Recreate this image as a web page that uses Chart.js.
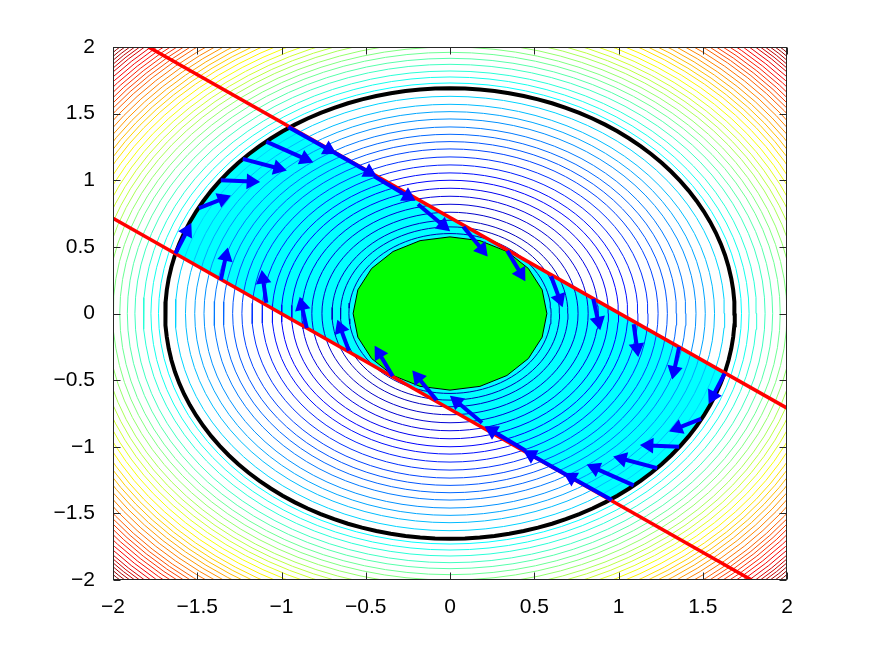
<!DOCTYPE html>
<html>
<head>
<meta charset="utf-8">
<script src="https://cdn.jsdelivr.net/npm/chart.js@4.4.1/dist/chart.umd.min.js"></script>
<style>
  html, body { margin: 0; background: #fff; }
  canvas { display: block; }
</style>
</head>
<body>
<canvas id="c" width="869" height="653"></canvas>
<script>
// levels of x^2 + y^2
const contourRadii = [0.60, 0.65, 0.70, 0.76, 0.82, 0.88, 0.94, 1.00, 1.055, 1.115, 1.175, 1.235,
  1.29, 1.345, 1.40, 1.46, 1.515, 1.57, 1.63, 1.73, 1.775, 1.82, 1.87, 1.915, 1.96, 2.00,
  2.04, 2.08, 2.115, 2.15, 2.185, 2.22, 2.255, 2.29, 2.32, 2.35, 2.38, 2.41, 2.44, 2.47,
  2.50, 2.525, 2.55, 2.575, 2.60, 2.625, 2.65, 2.675, 2.70, 2.72, 2.74, 2.76, 2.78, 2.80, 2.82];
const blackRadius = 1.69;   // thick black level
const greenRadius = 0.575;  // filled green level

// the two red constraint lines
const upperLineX = [-1.79, 2.0],  upperLineY = [2.0, -0.71];
const lowerLineX = [-2.0, 1.79],  lowerLineY = [0.715, -2.0];

// quiver: tails and vectors
const arrowX = [-1.63, -1.49, -1.36, -1.23, -1.09, -0.96, -0.69, -0.45, -0.19, 0.08, 0.34, 0.60, 0.85, 1.09, 1.36,
                 1.63,  1.49,  1.36,  1.23,  1.09,  0.96,  0.69,  0.45,  0.19, -0.08, -0.34, -0.60, -0.85, -1.09, -1.36];
const arrowY = [0.45, 0.79, 1.00, 1.16, 1.29, 1.40, 1.21, 1.03, 0.82, 0.65, 0.47, 0.28, 0.11, -0.08, -0.25,
               -0.45, -0.79, -1.00, -1.16, -1.29, -1.40, -1.21, -1.03, -0.82, -0.65, -0.47, -0.28, -0.11, 0.08, 0.25];
const arrowU = [0.07, 0.14, 0.18, 0.21, 0.23, 0.24, 0.21, 0.20, 0.15, 0.11, 0.08, 0.05, 0.03, 0.02, -0.03,
               -0.07, -0.14, -0.18, -0.21, -0.23, -0.24, -0.21, -0.20, -0.15, -0.11, -0.08, -0.05, -0.03, -0.02, 0.03];
const arrowV = [0.17, 0.07, -0.01, -0.07, -0.13, -0.17, -0.15, -0.15, -0.16, -0.17, -0.17, -0.17, -0.17, -0.18, -0.18,
               -0.17, -0.07, 0.01, 0.07, 0.13, 0.17, 0.15, 0.15, 0.16, 0.17, 0.17, 0.17, 0.17, 0.18, 0.18];

const xTicks = [-2, -1.5, -1, -0.5, 0, 0.5, 1, 1.5, 2];
const yTicks = [-2, -1.5, -1, -0.5, 0, 0.5, 1, 1.5, 2];

/* helpers ------------------------------------------------------------ */
function jet(t) {
  const c = v => Math.round(255 * Math.max(0, Math.min(1, v)));
  return `rgb(${c(1.5 - Math.abs(4*t - 3))},${c(1.5 - Math.abs(4*t - 2))},${c(1.5 - Math.abs(4*t - 1))})`;
}
const fMax = 8; // x^2+y^2 at the corners
function ring(r, n) {
  const pts = [];
  for (let k = 0; k <= n; k++) {
    const a = 2 * Math.PI * k / n;
    pts.push({ x: r * Math.cos(a), y: r * Math.sin(a) });
  }
  return pts;
}
function arc(r, a0, a1, n) {
  const pts = [];
  for (let k = 0; k <= n; k++) {
    const a = a0 + (a1 - a0) * k / n;
    pts.push({ x: r * Math.cos(a), y: r * Math.sin(a) });
  }
  return pts;
}
function lineCoef(X, Y) {
  const m = (Y[1] - Y[0]) / (X[1] - X[0]);
  return [m, Y[0] - m * X[0]];
}
function crossings(m, c, R) {
  const A = 1 + m*m, B = 2*m*c, C = c*c - R*R, d = Math.sqrt(B*B - 4*A*C);
  return [(-B - d) / (2*A), (-B + d) / (2*A)].map(x => ({ x, y: m*x + c }));
}

/* feasible (cyan) region: disc inside black level, between the red lines */
const [mU, cU] = lineCoef(upperLineX, upperLineY);
const [mL, cL] = lineCoef(lowerLineX, lowerLineY);
const [p1, p2] = crossings(mU, cU, blackRadius);
const [p4, p3] = crossings(mL, cL, blackRadius);
const ang = p => Math.atan2(p.y, p.x);
const cyanShape = [p1, p2, ...arc(blackRadius, ang(p2), ang(p3), 30), p4,
                   ...arc(blackRadius, ang(p4), ang(p1), 30)];

/* datasets ------------------------------------------------------------ */
const datasets = [];

datasets.push({ data: cyanShape, order: 5, showLine: true, fill: 'shape',
  backgroundColor: '#00ffff', borderWidth: 0, pointRadius: 0 });

contourRadii.forEach(r => datasets.push({
  data: ring(r, 96), order: 4, showLine: true, fill: false,
  borderColor: jet(r * r / fMax), borderWidth: 1, pointRadius: 0
}));

datasets.push({ data: ring(greenRadius, 20), order: 3, showLine: true, fill: 'shape',
  backgroundColor: '#00ff00', borderColor: '#000', borderWidth: 1, pointRadius: 0 });

datasets.push({ data: ring(blackRadius, 120), order: 2, showLine: true, fill: false,
  borderColor: '#000', borderWidth: 4, pointRadius: 0 });

[[upperLineX, upperLineY], [lowerLineX, lowerLineY]].forEach(([X, Y]) => datasets.push({
  data: X.map((x, i) => ({ x, y: Y[i] })), order: 1, showLine: true, fill: false,
  borderColor: '#ff0000', borderWidth: 3.5, pointRadius: 0
}));

const headAngle = ctx => {
  const d = ctx.chart.data.datasets[ctx.datasetIndex].data;
  const sx = ctx.chart.scales.x, sy = ctx.chart.scales.y;
  const dx = sx.getPixelForValue(d[1].x) - sx.getPixelForValue(d[0].x);
  const dy = sy.getPixelForValue(d[1].y) - sy.getPixelForValue(d[0].y);
  return Math.atan2(dx, -dy) * 180 / Math.PI;
};
arrowX.forEach((x, i) => datasets.push({
  data: [{ x, y: arrowY[i] }, { x: x + arrowU[i], y: arrowY[i] + arrowV[i] }],
  order: 0, showLine: true, fill: false, borderColor: '#0000ff', borderWidth: 4,
  pointStyle: 'triangle', pointRadius: c => c.dataIndex === 1 ? 7 : 0,
  pointBackgroundColor: '#0000ff', pointBorderColor: '#0000ff', pointBorderWidth: 2,
  rotation: headAngle
}));

/* axes box with inward ticks (matlab style) --------------------------- */
const axesBox = {
  id: 'axesBox',
  afterDraw(chart) {
    const { ctx, chartArea: a, scales: { x, y } } = chart;
    const L = Math.round(a.left) + 0.5, R = Math.round(a.right) - 0.5;
    const T = Math.round(a.top) + 0.5, B = Math.round(a.bottom) - 0.5;
    ctx.save();
    ctx.strokeStyle = '#262626';
    ctx.lineWidth = 1;
    ctx.strokeRect(L, T, R - L, B - T);
    ctx.beginPath();
    xTicks.forEach(v => {
      const px = Math.round(x.getPixelForValue(v)) + 0.5;
      ctx.moveTo(px, B); ctx.lineTo(px, B - 7);
      ctx.moveTo(px, T); ctx.lineTo(px, T + 7);
    });
    yTicks.forEach(v => {
      const py = Math.round(y.getPixelForValue(v)) + 0.5;
      ctx.moveTo(L, py); ctx.lineTo(L + 7, py);
      ctx.moveTo(R, py); ctx.lineTo(R - 7, py);
    });
    ctx.stroke();
    ctx.restore();
  }
};

const tickFont = { family: "'Liberation Sans', Arial, Helvetica, sans-serif", size: 21 };
const fmt = v => String(v).replace('-', '\u2212');

new Chart(document.getElementById('c'), {
  type: 'scatter',
  data: { datasets },
  options: {
    responsive: false,
    animation: false,
    events: [],
    layout: { padding: { left: 0, top: 47, right: 82, bottom: 0 } },
    plugins: { legend: { display: false }, tooltip: { enabled: false } },
    scales: {
      x: {
        type: 'linear', min: -2, max: 2,
        afterBuildTicks: s => { s.ticks = xTicks.map(v => ({ value: v })); },
        afterFit: s => { s.height = 73; },
        grid: { display: false }, border: { display: false },
        ticks: { color: '#000', font: tickFont, padding: 7, maxRotation: 0, callback: fmt }
      },
      y: {
        type: 'linear', min: -2, max: 2,
        afterBuildTicks: s => { s.ticks = yTicks.map(v => ({ value: v })); },
        afterFit: s => { s.width = 113; },
        grid: { display: false }, border: { display: false },
        ticks: { color: '#000', font: tickFont, padding: 10, callback: fmt }
      }
    }
  },
  plugins: [axesBox]
});
</script>
</body>
</html>
